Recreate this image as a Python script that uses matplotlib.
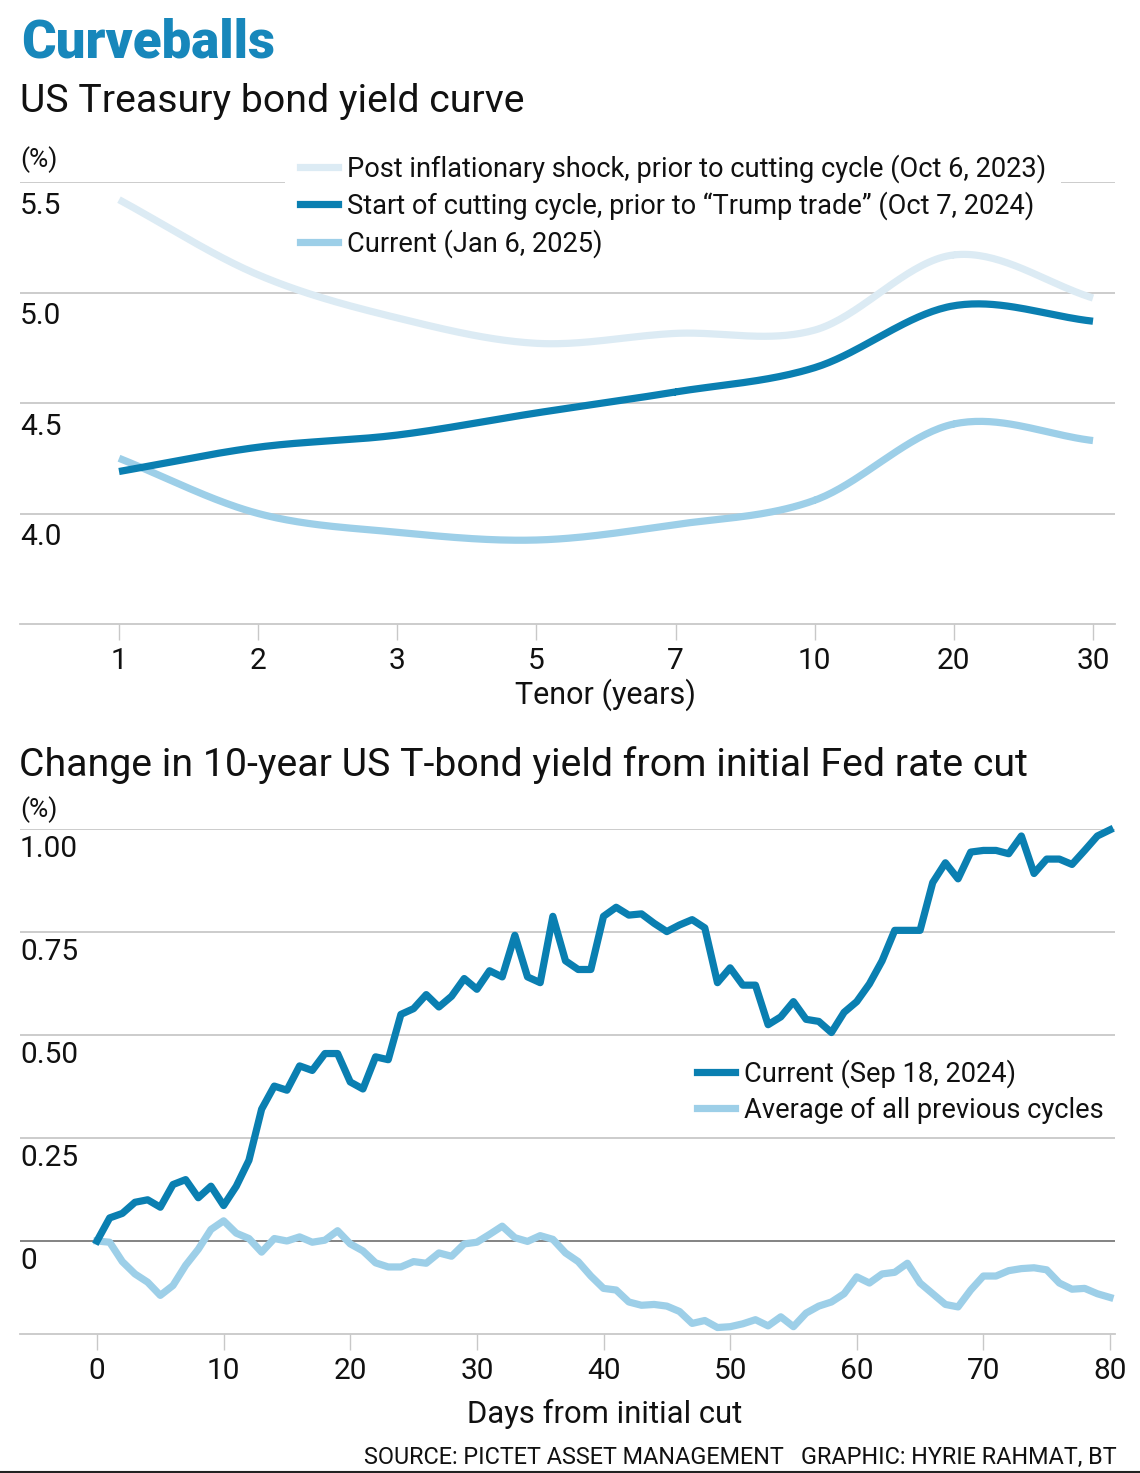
import numpy as np
import matplotlib.pyplot as plt
from matplotlib.transforms import blended_transform_factory
from matplotlib.lines import Line2D

plt.rcParams['font.family'] = ['Roboto', 'DejaVu Sans']

W, H = 1140, 1473
DARK = '#0a7fb1'
LIGHT = '#9dcfe8'
PALE = '#dcebf4'
GRID = '#c8c8c8'
TXT = '#111111'

# top chart: yield curves
tenors = ['1', '2', '3', '5', '7', '10', '20', '30']
post_shock = [5.42, 5.08, 4.885, 4.77, 4.815, 4.83, 5.17, 4.975]
start_cut = [4.19, 4.30, 4.355, 4.455, 4.55, 4.66, 4.94, 4.87]
current_curve = [4.25, 4.00, 3.915, 3.88, 3.95, 4.06, 4.405, 4.33]
curve_labels = ['Post inflationary shock, prior to cutting cycle (Oct 6, 2023)',
                'Start of cutting cycle, prior to \u201cTrump trade\u201d (Oct 7, 2024)',
                'Current (Jan 6, 2025)']
top_yticks = [4.0, 4.5, 5.0, 5.5]

# bottom chart: change in 10y yield, days 0..80
current_change = [0.0, 0.056, 0.067, 0.094, 0.10, 0.082, 0.137, 0.149, 0.105, 0.133,
                  0.086, 0.133, 0.196, 0.32, 0.376, 0.366, 0.425, 0.414, 0.455, 0.455,
                  0.386, 0.369, 0.447, 0.44, 0.55, 0.564, 0.598, 0.568, 0.594, 0.637,
                  0.611, 0.656, 0.641, 0.742, 0.641, 0.627, 0.788, 0.68, 0.659, 0.659,
                  0.788, 0.81, 0.791, 0.794, 0.771, 0.751, 0.767, 0.78, 0.76, 0.627,
                  0.663, 0.621, 0.621, 0.525, 0.544, 0.581, 0.538, 0.533, 0.506, 0.555,
                  0.581, 0.624, 0.68, 0.754, 0.754, 0.754, 0.87, 0.918, 0.879, 0.944,
                  0.948, 0.948, 0.94, 0.983, 0.892, 0.927, 0.927, 0.914, 0.948, 0.983,
                  0.998]
average_change = [0.0, -0.003, -0.05, -0.08, -0.10, -0.132, -0.108, -0.059, -0.02, 0.028,
                  0.049, 0.019, 0.006, -0.027, 0.006, 0.0, 0.01, -0.003, 0.002, 0.025,
                  -0.007, -0.024, -0.053, -0.063, -0.063, -0.05, -0.054, -0.029, -0.037, -0.007,
                  -0.003, 0.016, 0.036, 0.008, -0.001, 0.013, 0.004, -0.029, -0.05, -0.085,
                  -0.115, -0.119, -0.148, -0.156, -0.154, -0.158, -0.171, -0.2, -0.193, -0.21,
                  -0.208, -0.201, -0.191, -0.206, -0.184, -0.208, -0.175, -0.158, -0.148, -0.128,
                  -0.087, -0.102, -0.08, -0.076, -0.054, -0.102, -0.128, -0.154, -0.16, -0.119,
                  -0.085, -0.085, -0.072, -0.067, -0.065, -0.07, -0.102, -0.117, -0.115, -0.128,
                  -0.137]
days = np.arange(len(current_change))
change_labels = ['Current (Sep 18, 2024)', 'Average of all previous cycles']
bot_yticks = [0, 0.25, 0.5, 0.75, 1.0]
bot_ylabels = ['0', '0.25', '0.50', '0.75', '1.00']
bot_xticks = [0, 10, 20, 30, 40, 50, 60, 70, 80]

TICK_FS = 21.5
LEG_FS = 19.6


def fx(px):
    return px / W


def fy(py):
    return 1 - py / H


def smooth(ys, n=40):
    # catmull-rom through evenly spaced points
    ys = np.asarray(ys, float)
    p = np.concatenate([[2 * ys[0] - ys[1]], ys, [2 * ys[-1] - ys[-2]]])
    xs_out, ys_out = [], []
    t = np.linspace(0, 1, n)
    for i in range(len(ys) - 1):
        p0, p1, p2, p3 = p[i], p[i + 1], p[i + 2], p[i + 3]
        seg = 0.5 * (2 * p1 + (-p0 + p2) * t + (2 * p0 - 5 * p1 + 4 * p2 - p3) * t ** 2
                     + (-p0 + 3 * p1 - 3 * p2 + p3) * t ** 3)
        xs_out.append(i + t)
        ys_out.append(seg)
    return np.concatenate(xs_out), np.concatenate(ys_out)


fig = plt.figure(figsize=(W / 100, H / 100), dpi=100)

fig.text(fx(21), fy(43), 'Curveballs', fontsize=38, fontweight='black', color='#1787bb',
         va='center', ha='left')
fig.text(fx(20), fy(101), 'US Treasury bond yield curve', fontsize=28.3, color=TXT,
         va='center', ha='left')

# ---- top chart
ax1 = fig.add_axes([fx(20), fy(624), fx(1115) - fx(20), fy(182) - fy(624)])
ax1.set_xlim(-99 / 139.14, 7 + 22 / 139.14)
ax1.set_ylim(3.5, 5.5)
for v in top_yticks:
    ax1.axhline(v, color=GRID, lw=1.3, zorder=1)
lw = 5.2
for vals, col in [(post_shock, PALE), (current_curve, LIGHT), (start_cut, DARK)]:
    sx, sy = smooth(vals)
    ax1.plot(sx, sy, color=col, lw=lw, solid_capstyle='butt', zorder=3)
for s in ['top', 'right', 'left']:
    ax1.spines[s].set_visible(False)
ax1.spines['bottom'].set_color(GRID)
ax1.spines['bottom'].set_linewidth(1.3)
ax1.set_yticks([])
ax1.set_xticks(range(len(tenors)))
ax1.set_xticklabels(tenors)
ax1.tick_params(axis='x', length=11.5, width=1, color=GRID, pad=5, labelsize=TICK_FS,
                labelcolor=TXT)
tr = blended_transform_factory(fig.transFigure, ax1.transData)
for v in top_yticks:
    ax1.annotate(f'{v:.1f}', xy=(fx(20), v), xycoords=tr, xytext=(0, -17),
                 textcoords='offset points', fontsize=TICK_FS, color=TXT, va='center',
                 ha='left')
fig.text(fx(20), fy(160), '(%)', fontsize=19, color=TXT, va='center', ha='left')

handles = [Line2D([], [], color=c, lw=lw) for c in [PALE, DARK, LIGHT]]
leg = ax1.legend(handles, curve_labels, loc='upper left',
                 bbox_to_anchor=(fx(285), fy(139)), bbox_transform=fig.transFigure,
                 fontsize=LEG_FS, frameon=True, facecolor='white', edgecolor='none',
                 framealpha=1, fancybox=False, handlelength=1.4, handletextpad=0.33,
                 labelspacing=0.32, borderpad=0.55, borderaxespad=0)
leg.set_zorder(2)
for t in leg.get_texts():
    t.set_color(TXT)
fig.text(fx(605), fy(695), 'Tenor (years)', fontsize=22, color=TXT, va='center', ha='center')

# ---- bottom chart
fig.text(fx(19), fy(765), 'Change in 10-year US T-bond yield from initial Fed rate cut',
         fontsize=28.3, color=TXT, va='center', ha='left')
ax2 = fig.add_axes([fx(20), fy(1334), fx(1115) - fx(20), fy(829) - fy(1334)])
ppd = (1110 - 97) / 80
ax2.set_xlim(-77 / ppd, 80 + 5 / ppd)
ax2.set_ylim(-93 / 412, 1.0)
for v in bot_yticks:
    ax2.axhline(v, color='#7a7a7a' if v == 0 else GRID, lw=1.3, zorder=1)
ax2.plot(days, average_change, color=LIGHT, lw=lw, zorder=3, clip_on=False,
         solid_joinstyle='round')
ax2.plot(days, current_change, color=DARK, lw=lw, zorder=4, clip_on=False,
         solid_joinstyle='round')
for s in ['top', 'right', 'left']:
    ax2.spines[s].set_visible(False)
ax2.spines['bottom'].set_color(GRID)
ax2.spines['bottom'].set_linewidth(1.3)
ax2.set_yticks([])
ax2.set_xticks(bot_xticks)
ax2.tick_params(axis='x', length=11.5, width=1, color=GRID, pad=5, labelsize=TICK_FS,
                labelcolor=TXT)
tr2 = blended_transform_factory(fig.transFigure, ax2.transData)
for v, lab in zip(bot_yticks, bot_ylabels):
    ax2.annotate(lab, xy=(fx(20), v), xycoords=tr2, xytext=(0, -14.5),
                 textcoords='offset points', fontsize=TICK_FS, color=TXT, va='center',
                 ha='left')
fig.text(fx(20), fy(810), '(%)', fontsize=19, color=TXT, va='center', ha='left')

handles2 = [Line2D([], [], color=c, lw=lw) for c in [DARK, LIGHT]]
leg2 = ax2.legend(handles2, change_labels, loc='upper left',
                  bbox_to_anchor=(fx(697), fy(1059)), bbox_transform=fig.transFigure,
                  fontsize=LEG_FS, frameon=False, handlelength=1.4, handletextpad=0.33,
                  labelspacing=0.32, borderpad=0, borderaxespad=0)
for t in leg2.get_texts():
    t.set_color(TXT)
fig.text(fx(605), fy(1414), 'Days from initial cut', fontsize=22.3, color=TXT,
         va='center', ha='center')

fig.text(fx(1117), fy(1457), 'SOURCE: PICTET ASSET MANAGEMENT   GRAPHIC: HYRIE RAHMAT, BT',
         fontsize=16.8, color=TXT, va='center', ha='right')
fig.add_artist(Line2D([0, 1], [fy(1471.5), fy(1471.5)], transform=fig.transFigure,
                      color='#222222', lw=1.5))

fig.savefig('out.png', dpi=100, facecolor='white')
